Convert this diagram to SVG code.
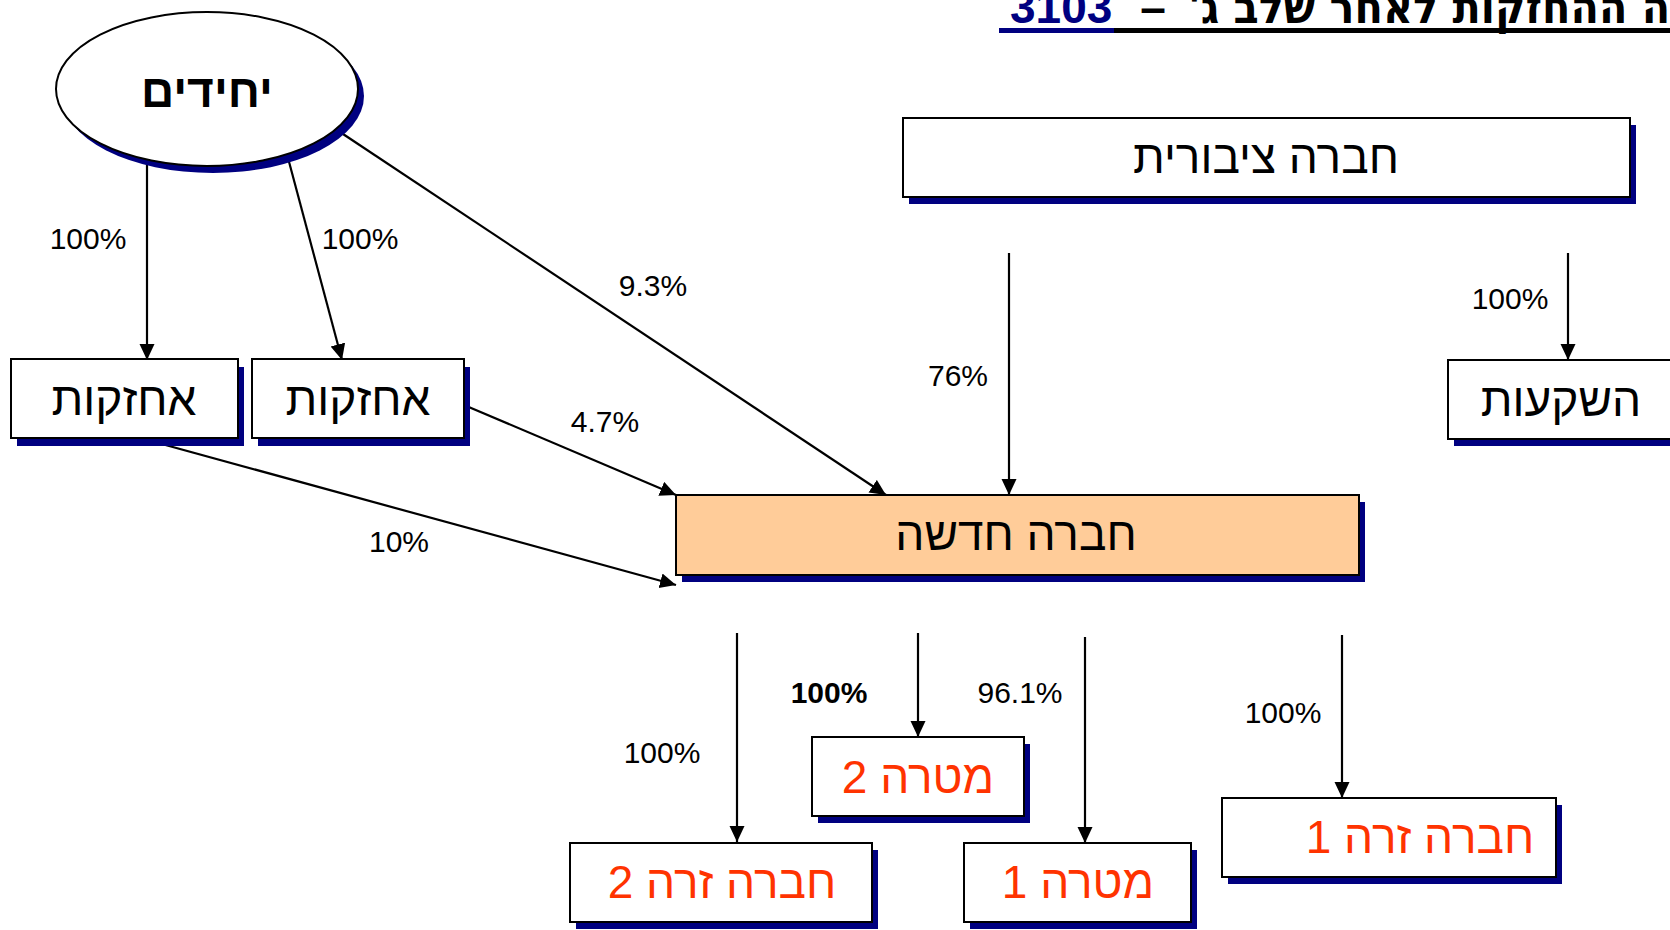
<svg xmlns="http://www.w3.org/2000/svg" width="1670" height="930" viewBox="0 0 1670 930">
<style>
.box{fill:#ffffff;stroke:#000;stroke-width:2}
.sh{fill:#000080}
.heb{font-family:"Liberation Sans",Arial,sans-serif;font-size:46px;fill:#000;text-anchor:middle;direction:rtl}
.red{fill:#ff3300}
.pct{font-family:"Liberation Sans",Arial,sans-serif;font-size:30px;fill:#000;text-anchor:middle}
.ln{stroke:#000;stroke-width:2.2;fill:none;marker-end:url(#ah)}
.ttl{font-family:"Liberation Sans",Arial,sans-serif;font-size:46px;font-weight:bold}
.ttlh{font-family:"DejaVu Sans Condensed","DejaVu Sans","Liberation Sans",sans-serif;font-stretch:condensed;font-size:46px;font-weight:bold}
</style>
<defs>
<marker id="ah" markerUnits="userSpaceOnUse" markerWidth="17" markerHeight="16" refX="16" refY="7.5" orient="auto">
<path d="M0,0 L16,7.5 L0,15 z" fill="#000"/>
</marker>
</defs>
<rect width="1670" height="930" fill="#fff"/>

<g id="title">
<text class="ttl" x="1010" y="23" fill="#000080">3103</text>
<text class="ttl" x="1153" y="23" text-anchor="middle" fill="#000">–</text>
<text class="ttlh" x="1188" y="23" fill="#000" direction="rtl" text-anchor="end">ה ההחזקות לאחר שלב ג'</text>
<rect x="999" y="28" width="115" height="5" fill="#000080"/>
<rect x="1114" y="28" width="556" height="5" fill="#000"/>
</g>

<g id="connectors">
<line class="ln" x1="147" y1="160" x2="147" y2="360"/>
<line class="ln" x1="288" y1="158" x2="342" y2="360"/>
<line class="ln" x1="343" y1="134" x2="886" y2="495"/>
<line class="ln" x1="464" y1="405" x2="676" y2="495"/>
<line class="ln" x1="140" y1="438" x2="676" y2="585"/>
<line class="ln" x1="1009" y1="253" x2="1009" y2="495"/>
<line class="ln" x1="1568" y1="253" x2="1568" y2="360"/>
<line class="ln" x1="737" y1="633" x2="737" y2="842"/>
<line class="ln" x1="918" y1="633" x2="918" y2="737"/>
<line class="ln" x1="1085" y1="637" x2="1085" y2="843"/>
<line class="ln" x1="1342" y1="635" x2="1342" y2="798"/>
</g>

<g id="labels">
<text class="pct" x="88" y="249">100%</text>
<text class="pct" x="360" y="249">100%</text>
<text class="pct" x="653" y="296">9.3%</text>
<text class="pct" x="605" y="432">4.7%</text>
<text class="pct" x="399" y="552">10%</text>
<text class="pct" x="958" y="386">76%</text>
<text class="pct" x="1510" y="309">100%</text>
<text class="pct" x="662" y="763">100%</text>
<text class="pct" x="829" y="703" font-weight="bold">100%</text>
<text class="pct" x="1020" y="703">96.1%</text>
<text class="pct" x="1283" y="723">100%</text>
</g>

<g id="n-yehidim">
<ellipse class="sh" cx="213" cy="96" rx="151" ry="77"/>
<ellipse cx="207" cy="89" rx="151" ry="77" fill="#fff" stroke="#000" stroke-width="2"/>
<text class="heb" x="207" y="107" font-weight="bold" font-size="44">יחידים</text>
</g>

<g id="n-ahzakot1">
<rect class="sh" x="17" y="367" width="227" height="79"/>
<rect class="box" x="11" y="359" width="227" height="79"/>
<text class="heb" x="124" y="415">אחזקות</text>
</g>

<g id="n-ahzakot2">
<rect class="sh" x="258" y="367" width="212" height="79"/>
<rect class="box" x="252" y="359" width="212" height="79"/>
<text class="heb" x="358" y="415">אחזקות</text>
</g>

<g id="n-tziburit">
<rect class="sh" x="909" y="125" width="727" height="79"/>
<rect class="box" x="903" y="118" width="727" height="79"/>
<text class="heb" x="1266" y="173">חברה ציבורית</text>
</g>

<g id="n-hashkaot">
<rect class="sh" x="1454" y="367" width="240" height="79"/>
<rect class="box" x="1448" y="360" width="240" height="79"/>
<text class="heb" x="1561" y="416">השקעות</text>
</g>

<g id="n-hadasha">
<rect class="sh" x="682" y="502" width="683" height="80"/>
<rect x="676" y="495" width="683" height="80" fill="#ffcc99" stroke="#000" stroke-width="2"/>
<text class="heb" x="1016" y="550">חברה חדשה</text>
</g>

<g id="n-matara2">
<rect class="sh" x="818" y="744" width="212" height="79"/>
<rect class="box" x="812" y="737" width="212" height="79"/>
<text class="heb red" x="918" y="793">מטרה 2</text>
</g>

<g id="n-zara2">
<rect class="sh" x="576" y="850" width="302" height="79"/>
<rect class="box" x="570" y="843" width="302" height="79"/>
<text class="heb red" x="722" y="898">חברה זרה 2</text>
</g>

<g id="n-matara1">
<rect class="sh" x="970" y="850" width="227" height="79"/>
<rect class="box" x="964" y="843" width="227" height="79"/>
<text class="heb red" x="1078" y="898">מטרה 1</text>
</g>

<g id="n-zara1">
<rect class="sh" x="1228" y="805" width="334" height="79"/>
<rect class="box" x="1222" y="798" width="334" height="79"/>
<text class="heb red" x="1420" y="853">חברה זרה 1</text>
</g>
</svg>
